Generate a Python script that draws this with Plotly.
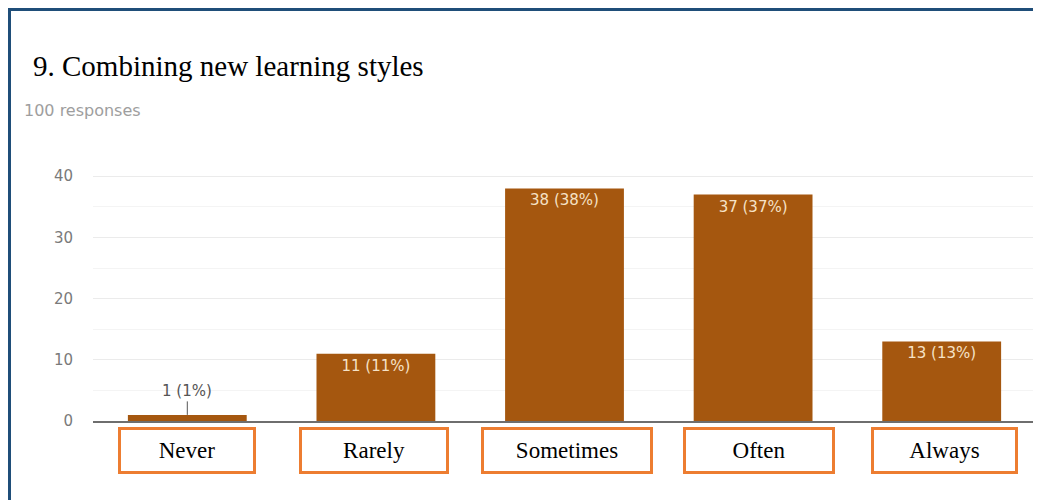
import plotly.graph_objects as go

# ---------------------------------------------------------------------------
# Data
# ---------------------------------------------------------------------------
CATEGORIES = ["Never", "Rarely", "Sometimes", "Often", "Always"]
COUNTS = [1, 11, 38, 37, 13]
TOTAL = 100
Y_TICKS = [0, 10, 20, 30, 40]

TITLE = "9. Combining new learning styles"
SUBTITLE = f"{TOTAL} responses"

# ---------------------------------------------------------------------------
# Style
# ---------------------------------------------------------------------------
BAR = "#A5570F"
BAR_TEXT = "#F6E2C6"
FRAME = "#1F4E79"
BOX = "#ED7D31"
GREY = "#7A7A7A"
SANS = "DejaVu Sans, Arial"
SERIF = "Liberation Serif, Times New Roman"

# the page adds an 8px body margin, so the figure is 8px smaller
W, H = 1033, 492
L, R, T, B = 85, 5, 167, 79
BOX_W = [138, 150, 172, 152, 147]
BOX_DX = [0, -2, 2, 6, 3]


def px_x(px):
    return (px - L) / (W - L - R)


def px_y(py):
    return (H - B - py) / (H - T - B)


labels = [f"{v} ({round(v * 100 / TOTAL)}%)" for v in COUNTS]
inside = [lab if v >= 5 else "" for v, lab in zip(COUNTS, labels)]

fig = go.Figure()
fig.add_trace(go.Bar(
    x=CATEGORIES, y=COUNTS,
    marker_color=BAR, marker_line_width=0,
    width=0.63,
    text=inside, textposition="inside", insidetextanchor="end",
    textfont=dict(family=SANS, size=15, color=BAR_TEXT),
    showlegend=False,
))

# small bars get their label above, with a leader line
for cat, v, lab in zip(CATEGORIES, COUNTS, labels):
    if v < 5:
        fig.add_annotation(
            x=cat, y=v, text=lab, showarrow=True, arrowhead=0,
            arrowwidth=1, arrowcolor="#555555", ax=0, ay=-24,
            font=dict(family=SANS, size=15, color="#555555"),
        )

# category labels in orange boxes under the axis
for cat, bw, dx in zip(CATEGORIES, BOX_W, BOX_DX):
    fig.add_annotation(
        x=cat, y=0, yref="y", yanchor="top", yshift=-6, xshift=dx,
        text=cat, showarrow=False, width=bw - 6, height=41,
        bordercolor=BOX, borderwidth=3, borderpad=0, bgcolor="white",
        font=dict(family=SERIF, size=23, color="black"),
    )

fig.add_annotation(
    x=px_x(14), y=px_y(103), xref="paper", yref="paper",
    xanchor="left", yanchor="middle", showarrow=False,
    text=SUBTITLE, font=dict(family=SANS, size=16, color="#9E9E9E"),
)

# frame round the page (top and left edges)
fig.add_shape(type="line", xref="paper", yref="paper",
              x0=px_x(0), x1=px_x(W + 5), y0=px_y(1.5), y1=px_y(1.5),
              line=dict(color=FRAME, width=3))
fig.add_shape(type="line", xref="paper", yref="paper",
              x0=px_x(1.5), x1=px_x(1.5), y0=px_y(0), y1=px_y(H + 5),
              line=dict(color=FRAME, width=3))

fig.update_layout(
    width=W, height=H,
    margin=dict(l=L, r=R, t=T, b=B),
    plot_bgcolor="white", paper_bgcolor="white",
    title=dict(
        text=TITLE, xref="container", yref="container",
        x=25 / W, xanchor="left", y=1 - 58 / H, yanchor="middle",
        font=dict(family=SERIF, size=29, color="black"),
    ),
)
fig.update_xaxes(
    showticklabels=False, showgrid=False, showline=True,
    linecolor="#6E6E6E", linewidth=1.5, ticks="",
)
fig.update_yaxes(
    range=[0, 40.2], tickvals=Y_TICKS,
    showgrid=True, gridcolor="#EBEBEB", gridwidth=1,
    minor=dict(dtick=5, showgrid=True, gridcolor="#F4F4F4"),
    zeroline=False, showline=False, ticks="",
    ticklabelstandoff=19,
    tickfont=dict(family=SANS, size=15, color=GREY),
)

fig.write_html("out.html")
